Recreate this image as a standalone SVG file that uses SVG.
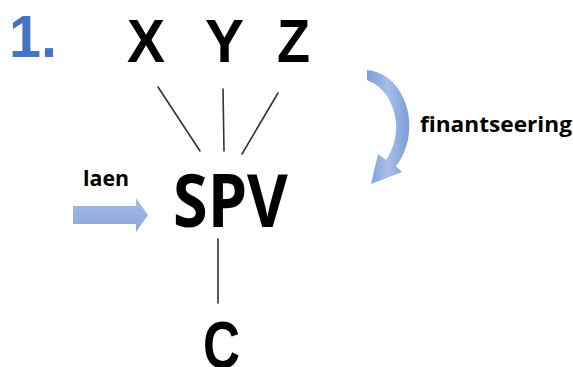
<svg xmlns="http://www.w3.org/2000/svg" width="573" height="367" viewBox="0 0 573 367">
<defs>
<style>
.t{font-family:"Open Sans","Liberation Sans",sans-serif;font-weight:bold;fill:#000}
.a{font-family:"Liberation Sans",Arial,sans-serif;font-weight:bold;fill:#000}
.big{font-size:61px}
.huge{font-size:73px}
.small{font-size:21px}
.ln{stroke:#333;stroke-width:1.6;fill:none;stroke-linecap:round}
</style>
<linearGradient id="g1" x1="0" y1="0" x2="1" y2="0">
<stop offset="0" stop-color="#7C9DD8"/>
<stop offset="0.5" stop-color="#A7BEE6"/>
<stop offset="1" stop-color="#7C9DD8"/>
</linearGradient>
<linearGradient id="g2" x1="0" y1="0" x2="0" y2="1">
<stop offset="0" stop-color="#A3BBE5"/>
<stop offset="1" stop-color="#8AA7DC"/>
</linearGradient>
</defs>
<rect width="573" height="367" fill="#fff"/>
<text x="9" y="57" style="font-family:'Liberation Sans',Arial,sans-serif;font-weight:bold;font-size:60px;fill:#4472C4" textLength="48" lengthAdjust="spacingAndGlyphs">1.</text>
<g id="X"><text class="a big" x="127" y="62" textLength="38" lengthAdjust="spacingAndGlyphs">X</text></g>
<g id="Y"><text class="a big" x="205" y="62" textLength="39" lengthAdjust="spacingAndGlyphs">Y</text></g>
<g id="Z"><text class="a big" x="277" y="62" textLength="33" lengthAdjust="spacingAndGlyphs">Z</text></g>
<g id="SPV"><text class="t huge" x="173" y="227" textLength="115" lengthAdjust="spacingAndGlyphs">SPV</text></g>
<g id="C"><text class="a" x="203" y="368" style="font-size:66px" textLength="37" lengthAdjust="spacingAndGlyphs">C</text></g>
<g id="connectors">
<line class="ln" x1="158" y1="87" x2="200" y2="151"/>
<line class="ln" x1="223" y1="89" x2="224" y2="151"/>
<line class="ln" x1="278" y1="93" x2="242" y2="154"/>
<line class="ln" x1="218" y1="239" x2="218" y2="303"/>
</g>
<g id="laen">
<polygon points="73,206 136,206 136,198 148,215 136,232 136,224 73,224" fill="url(#g2)"/>
<text class="t small" x="83" y="186" textLength="46" lengthAdjust="spacingAndGlyphs">laen</text>
</g>
<g id="finantseering">
<path d="M 367,70 C 395,72 415,105 408,140 C 405,152 401,160 396,166 L 402,172 L 371,184 L 378,154 L 386,160 C 394,148 397,135 396,122 C 393,100 383,86 367,80 Z" fill="url(#g1)"/>
<text class="t small" x="420" y="132" textLength="152" lengthAdjust="spacingAndGlyphs">finantseering</text>
</g>
</svg>
